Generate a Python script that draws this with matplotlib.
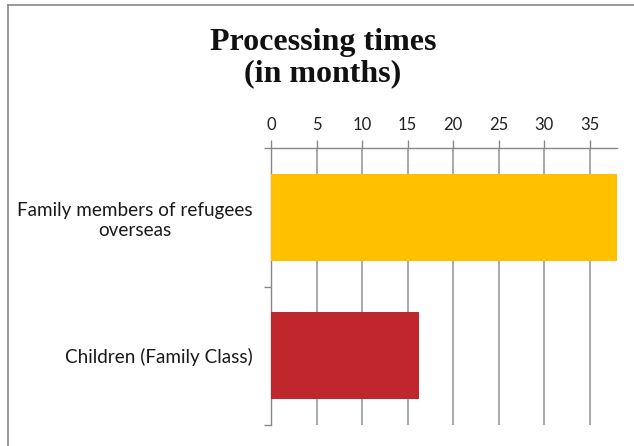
import matplotlib.pyplot as plt
from matplotlib.lines import Line2D

# data
categories = ['Family members of refugees\noverseas', 'Children (Family Class)']
months = [38, 16.3]
colors = ['#FFC000', '#C0272D']
xticks = [0, 5, 10, 15, 20, 25, 30, 35]

plt.rcParams['font.family'] = ['Lato', 'DejaVu Sans']

fig = plt.figure(figsize=(6.34, 4.46), dpi=100)
ax = fig.add_axes([271 / 634, 1 - 425 / 446, (617 - 271) / 634, (425 - 148) / 446])

ypos = list(range(len(categories)))
ax.barh(ypos, months, height=0.63, color=colors, zorder=3)

ax.set_xlim(0, 38)
ax.set_ylim(len(categories) - 0.5, -0.5)

# ticks on top
ax.xaxis.tick_top()
ax.set_xticks(xticks)
ax.set_xticklabels([str(t) for t in xticks])
ax.tick_params(axis='x', length=6, width=1, color='#888888', labelsize=12,
               labelcolor='#222222', pad=5)

ax.set_yticks(ypos)
ax.set_yticklabels(categories, multialignment='center', linespacing=1.25)
ax.set_yticks([-0.5, 0.5, 1.5], minor=True)
ax.tick_params(axis='y', which='major', length=0, labelsize=13.6,
               labelcolor='#1a1a1a', pad=13)
ax.tick_params(axis='y', which='minor', length=5, width=1, color='#888888')

ax.grid(axis='x', color='#999999', linewidth=1.2, zorder=0)

for s in ['right', 'bottom']:
    ax.spines[s].set_visible(False)
for s in ['top', 'left']:
    ax.spines[s].set_color('#888888')
    ax.spines[s].set_linewidth(1)

fig.text(323 / 634, 1 - 58 / 446, 'Processing times\n(in months)', ha='center', va='center',
         fontsize=23, fontweight='bold', family='Liberation Serif', linespacing=1.12,
         color='#111111')

# outer chart border (left and top edges)
fig.add_artist(Line2D([8 / 634, 8 / 634], [0, 1 - 4.5 / 446], color='#888888', lw=1.2))
fig.add_artist(Line2D([8 / 634, 1], [1 - 4.5 / 446, 1 - 4.5 / 446], color='#888888', lw=1.2))

fig.savefig('out.png', dpi=100)
